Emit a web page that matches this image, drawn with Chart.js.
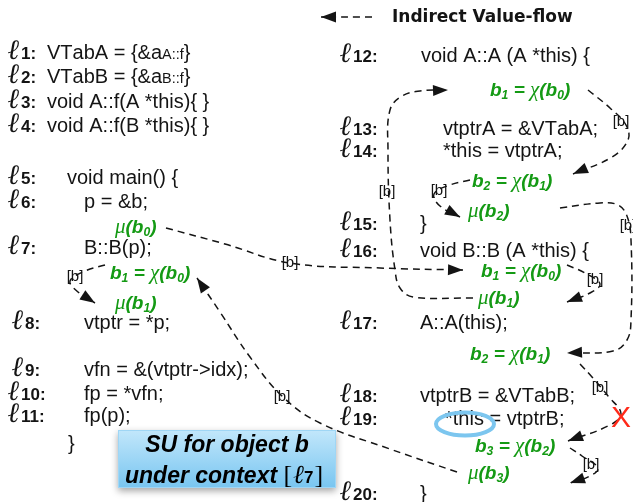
<!DOCTYPE html>
<html>
<head>
<meta charset="utf-8">
<script src="https://cdn.jsdelivr.net/npm/chart.js@4.4.1/dist/chart.umd.min.js"></script>
<style>html,body{margin:0;padding:0;background:#fff}canvas{display:block}</style>
</head>
<body>
<canvas id="c" width="633" height="502"></canvas>
<script>
// code lines: [line no, label x, y, code x, text]  (~..~ = small text)
const codeRows = [
  [1, 8, 52, 47, 'VTabA = {&a~A::f~}'],
  [2, 8, 76, 47, 'VTabB = {&a~B::f~}'],
  [3, 8, 101, 47, 'void A::f(A *this){ }'],
  [4, 8, 125, 47, 'void A::f(B *this){ }'],
  [5, 8, 177, 67, 'void main() {'],
  [6, 8, 201, 84, 'p = &b;'],
  [7, 8, 247, 84, 'B::B(p);'],
  [8, 12, 322, 84, 'vtptr = *p;'],
  [9, 12, 369, 84, 'vfn = &(vtptr->idx);'],
  [10, 8, 393, 84, 'fp = *vfn;'],
  [11, 8, 415, 84, 'fp(p);'],
  [12, 340, 55, 421, 'void A::A (A *this) {'],
  [13, 340, 128, 443, 'vtptrA = &VTabA;'],
  [14, 340, 150, 443, '*this = vtptrA;'],
  [15, 340, 223, 420, '}'],
  [16, 340, 250, 420, 'void B::B (A *this) {'],
  [17, 340, 322, 420, 'A::A(this);'],
  [18, 340, 395, 420, 'vtptrB = &VTabB;'],
  [19, 340, 418, 445, '*this = vtptrB;'],
  [20, 340, 493, 420, '}']
];
const braces = [[68, 443, '}']];

// green memory annotations (_x = subscript)
const annots = [
  ['μ(b_0)', 115, 226], ['b_1 = χ(b_0)', 110, 272], ['μ(b_1)', 115, 302],
  ['b_1 = χ(b_0)', 490, 89], ['b_2 = χ(b_1)', 472, 180], ['μ(b_2)', 468, 210],
  ['b_1 = χ(b_0)', 481, 270], ['μ(b_1)', 478, 297], ['b_2 = χ(b_1)', 470, 353],
  ['b_3 = χ(b_2)', 475, 445], ['μ(b_3)', 468, 472]
];

// [b] edge tags
const tags = [[290,263],[75,277],[282,397],[621,122],[387,192],[439,191],[628,226],[595,280],[600,388],[591,465]];

// indirect value-flow edges
const legendEdge = [[372,17],[321,17]];
const edges = [
  [[166,228],[225,244],[290,263],[380,268],[463,270]],
  [[105,265],[85,271],[70,281],[78,292],[95,303]],
  [[457,472],[390,449],[320,423],[283,397],[250,357],[220,312],[197,278]],
  [[588,90],[610,108],[626,125],[628,140],[612,157],[573,174]],
  [[473,298],[413,297],[400,288],[395,270],[390,220],[388,150],[390,110],[402,96],[420,91],[448,90]],
  [[470,180],[450,185],[434,194],[440,206],[460,217]],
  [[560,208],[600,203],[618,205],[627,216],[631,240],[631,320],[627,340],[613,351],[567,353]],
  [[567,265],[585,273],[600,284],[590,293],[567,302]],
  [[580,364],[592,377],[608,396],[621,414],[608,426],[568,441]],
  [[570,448],[582,456],[598,468],[590,476],[570,483]]
];

const GREEN = '#149a14';
const INK = '#141414';
const SANS = '"Liberation Sans", Arial, sans-serif';
const SERIF = '"Liberation Serif", "DejaVu Serif", serif';

function rich(ctx, s, x, y, o) {
  let small = false, cx = x;
  const base = y + o.size * 0.35;
  for (let i = 0; i < s.length; i++) {
    let ch = s[i], sub = false;
    if (ch === '~') { small = !small; continue; }
    if (ch === '_') { sub = true; ch = s[++i]; }
    let size = o.size, fam = SANS, w = o.bold ? 'bold ' : '', st = o.italic ? 'italic ' : '', dy = 0;
    if (ch === 'μ' || ch === 'χ') { fam = SERIF; w = ''; st = 'italic '; size = o.size + 2; }
    if (sub) { size = o.size * 0.64; dy = o.size * 0.16; }
    if (small) size = o.size * 0.72;
    ctx.font = st + w + size + 'px ' + fam;
    ctx.fillText(ch, cx, base + dy);
    cx += ctx.measureText(ch).width;
  }
  return cx;
}

function arrowHead(ctx, x1, y1, x2, y2, len, half) {
  const a = Math.atan2(y2 - y1, x2 - x1);
  ctx.beginPath();
  ctx.moveTo(x2, y2);
  ctx.lineTo(x2 - len * Math.cos(a) + half * Math.sin(a), y2 - len * Math.sin(a) - half * Math.cos(a));
  ctx.lineTo(x2 - len * Math.cos(a) - half * Math.sin(a), y2 - len * Math.sin(a) + half * Math.cos(a));
  ctx.closePath();
  ctx.fill();
}

const decor = {
  id: 'decor',
  afterDatasetsDraw(chart) {
    const ctx = chart.ctx, X = v => chart.scales.x.getPixelForValue(v), Y = v => chart.scales.y.getPixelForValue(v);
    ctx.save();
    ctx.fillStyle = INK;
    // arrow heads
    [legendEdge, ...edges].forEach(p => {
      const a = p[p.length - 2], b = p[p.length - 1];
      arrowHead(ctx, X(a[0]), Y(a[1]), X(b[0]), Y(b[1]), 15, 5.5);
    });
    // legend text
    ctx.font = 'bold 17px "DejaVu Sans", sans-serif';
    ctx.textBaseline = 'middle';
    ctx.fillText('Indirect Value-flow', X(392), Y(18));
    ctx.textBaseline = 'alphabetic';
    // code rows
    codeRows.forEach(([n, lx, y, cx, txt]) => {
      ctx.fillStyle = INK;
      ctx.font = 'italic bold 28px ' + SERIF;
      const base = Y(y) + 7;
      ctx.fillText('ℓ', X(lx), base);
      ctx.font = 'bold 17px ' + SANS;
      ctx.fillText(n + ':', X(lx) + 13, base);
      rich(ctx, txt, X(cx), Y(y), { size: 20 });
    });
    braces.forEach(([x, y, t]) => rich(ctx, t, X(x), Y(y), { size: 20 }));
    // green annotations
    ctx.fillStyle = GREEN;
    annots.forEach(([t, x, y]) => rich(ctx, t, X(x), Y(y), { size: 19, bold: true, italic: true }));
    // [b] tags
    ctx.fillStyle = INK;
    ctx.font = '15px ' + SANS;
    ctx.textAlign = 'center';
    ctx.textBaseline = 'middle';
    tags.forEach(([x, y]) => ctx.fillText('[b]', X(x), Y(y)));
    // killed flow
    ctx.fillStyle = '#ff2a1a';
    ctx.font = '30px ' + SANS;
    ctx.fillText('X', X(621), Y(419));
    // circled "this"
    ctx.strokeStyle = '#7cc6ef';
    ctx.lineWidth = 4;
    ctx.beginPath();
    ctx.ellipse(X(465), Y(424), 29, 11.5, 0, 0, Math.PI * 2);
    ctx.stroke();
    // SU box
    const bx = X(118), by = Y(430), bw = X(336) - bx, bh = Y(488) - by;
    ctx.save();
    ctx.shadowColor = 'rgba(0,0,0,0.35)';
    ctx.shadowBlur = 7;
    ctx.shadowOffsetY = 3;
    const g = ctx.createLinearGradient(0, by, 0, by + bh);
    g.addColorStop(0, '#c2e7fb');
    g.addColorStop(1, '#78c5f0');
    ctx.fillStyle = g;
    ctx.fillRect(bx, by, bw, bh);
    ctx.restore();
    ctx.strokeStyle = '#9fd6f5';
    ctx.lineWidth = 1;
    ctx.strokeRect(bx + 0.5, by + 0.5, bw - 1, bh - 1);
    ctx.fillStyle = '#000';
    ctx.textAlign = 'center';
    ctx.textBaseline = 'alphabetic';
    ctx.font = 'italic bold 23px ' + SANS;
    ctx.fillText('SU for object b', bx + bw / 2, Y(452));
    ctx.textAlign = 'left';
    let x = X(125);
    const bl = Y(483);
    ctx.fillText('under context ', x, bl); x += ctx.measureText('under context ').width;
    ctx.font = '26px ' + SERIF;
    ctx.fillText('[', x, bl); x += ctx.measureText('[').width + 1;
    ctx.font = 'italic 26px ' + SERIF;
    ctx.fillText('ℓ', x, bl); x += ctx.measureText('ℓ').width;
    ctx.font = 'bold 17px ' + SANS;
    ctx.fillText('7', x, bl); x += ctx.measureText('7').width + 1;
    ctx.font = '26px ' + SERIF;
    ctx.fillText(']', x, bl);
    ctx.restore();
  }
};

const mkLine = pts => ({
  data: pts.map(([x, y]) => ({ x, y })),
  showLine: true, borderColor: INK, borderWidth: 1.5, borderDash: [7, 5],
  pointRadius: 0, tension: 0.4, fill: false
});

new Chart(document.getElementById('c'), {
  type: 'scatter',
  data: { datasets: [mkLine(legendEdge), ...edges.map(mkLine)] },
  options: {
    responsive: false, animation: false, events: [],
    layout: { padding: 0 },
    plugins: { legend: { display: false }, tooltip: { enabled: false } },
    scales: {
      x: { type: 'linear', min: 0, max: 633, display: false },
      y: { type: 'linear', min: 0, max: 502, reverse: true, display: false }
    }
  },
  plugins: [decor]
});
</script>
</body>
</html>
